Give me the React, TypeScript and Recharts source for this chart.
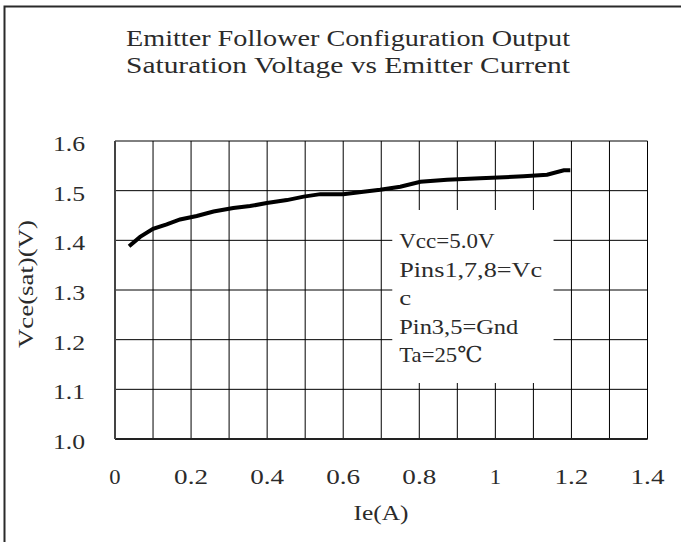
import React from "react";
import {
  CartesianGrid,
  Line,
  LineChart,
  ReferenceArea,
  XAxis,
  YAxis,
} from "recharts";

// values
const ieAmps = [
  0.037, 0.066, 0.1, 0.136, 0.171, 0.215, 0.259, 0.311, 0.355, 0.399, 0.452, 0.496,
  0.54, 0.6, 0.653, 0.697, 0.75, 0.803, 0.873, 0.96, 1.074, 1.136, 1.18, 1.197,
];
const vceSat = [
  1.388, 1.407, 1.423, 1.432, 1.442, 1.449, 1.458, 1.465, 1.469, 1.475, 1.481, 1.488,
  1.493, 1.493, 1.498, 1.502, 1.508, 1.518, 1.522, 1.525, 1.529, 1.532, 1.541, 1.541,
];

const xTicks = [0, 0.1, 0.2, 0.3, 0.4, 0.5, 0.6, 0.7, 0.8, 0.9, 1, 1.1, 1.2, 1.3, 1.4];
const xTickLabels = ["0", "", "0.2", "", "0.4", "", "0.6", "", "0.8", "", "1", "", "1.2", "", "1.4"];
const yTicks = [1.0, 1.1, 1.2, 1.3, 1.4, 1.5, 1.6];
const yTickLabels = ["1.0", "1.1", "1.2", "1.3", "1.4", "1.5", "1.6"];

const titleLines = [
  "Emitter Follower Configuration Output",
  "Saturation Voltage vs Emitter Current",
];
const noteLines = ["Vcc=5.0V", "Pins1,7,8=Vc", "c", "Pin3,5=Gnd", "Ta=25℃"];

const data = ieAmps.map((ie, i) => ({ ie, vce: vceSat[i] }));

const FONT = "'Liberation Serif', 'DejaVu Serif', serif";
const INK = "#2b2b2b";

// half-width cells; CJK symbols like ℃ take two
const cells = (s: string) => [...s].reduce((n, c) => n + (c.charCodeAt(0) > 0x2000 ? 2 : 1), 0);

function SerifText({
  x,
  y,
  text,
  width,
  size,
  anchor = "start",
  rotate,
}: {
  x: number;
  y: number;
  text: string;
  width: number;
  size: number;
  anchor?: "start" | "middle" | "end";
  rotate?: number;
}) {
  if (!text) return null;
  return (
    <text
      x={x}
      y={y}
      fontFamily={FONT}
      fontSize={size}
      fill={INK}
      textAnchor={anchor}
      textLength={width}
      lengthAdjust="spacingAndGlyphs"
      transform={rotate ? `rotate(${rotate} ${x} ${y})` : undefined}
    >
      {text}
    </text>
  );
}

const near = (a: number, b: number) => Math.abs(a - b) < 1e-6;

function renderXTick(props: any) {
  const i = xTicks.findIndex((t) => near(t, props.payload.value));
  const label = xTickLabels[i] ?? "";
  return (
    <SerifText key={`x${i}`} x={props.x} y={439 + 45} text={label} width={label.length * 11.3} size={22} anchor="middle" />
  );
}

function renderYTick(props: any) {
  const i = yTicks.findIndex((t) => near(t, props.payload.value));
  const label = yTickLabels[i] ?? "";
  return (
    <SerifText key={`y${i}`} x={85} y={props.y + 10} text={label} width={label.length * 10.7} size={21} anchor="end" />
  );
}

function NoteLabel(props: any) {
  const vb = props.viewBox;
  return (
    <g>
      {noteLines.map((t, i) => (
        <SerifText key={i} x={vb.x + 7} y={vb.y + 38 + i * 28.5} text={t} width={cells(t) * 11.9} size={22} />
      ))}
    </g>
  );
}

export default function App() {
  return (
    <div style={{ position: "absolute", left: 0, top: 0, width: 681, height: 542, background: "#fff" }}>
      <LineChart
        width={681}
        height={542}
        data={data}
        margin={{ top: 141, right: 33.5, bottom: 63, left: 55 }}
      >
        <rect x={4.5} y={6.5} width={700} height={560} fill="none" stroke="#2a2a2a" strokeWidth={2} />
        {titleLines.map((t, i) => (
          <SerifText key={i} x={126} y={46 + i * 27} text={t} width={t.length * 12} size={24} />
        ))}
        <SerifText x={33} y={284} text="Vce(sat)(V)" width={128} size={22} anchor="middle" rotate={-90} />
        <SerifText x={381} y={520} text="Ie(A)" width={55} size={22} anchor="middle" />
        <CartesianGrid stroke="#000" strokeWidth={1} />
        <XAxis
          dataKey="ie"
          type="number"
          domain={[0, 1.4]}
          ticks={xTicks}
          interval={0}
          height={40}
          tickLine={false}
          axisLine={{ stroke: "#222", strokeWidth: 2 }}
          tick={renderXTick}
        />
        <XAxis
          xAxisId="top"
          orientation="top"
          type="number"
          domain={[0, 1.4]}
          height={0}
          tick={false}
          tickLine={false}
          axisLine={{ stroke: "#9a9a9a", strokeWidth: 2 }}
        />
        <YAxis
          type="number"
          domain={[1.0, 1.6]}
          ticks={yTicks}
          interval={0}
          width={60}
          tickLine={false}
          axisLine={{ stroke: "#444", strokeWidth: 2 }}
          tick={renderYTick}
        />
        <YAxis
          yAxisId="right"
          orientation="right"
          type="number"
          domain={[1.0, 1.6]}
          width={0}
          tick={false}
          tickLine={false}
          axisLine={{ stroke: "#9a9a9a", strokeWidth: 2 }}
        />
        <ReferenceArea
          x1={0.729}
          x2={1.153}
          y1={1.113}
          y2={1.461}
          fill="#fff"
          fillOpacity={1}
          stroke="none"
          label={<NoteLabel />}
        />
        <Line
          dataKey="vce"
          type="linear"
          stroke="#000"
          strokeWidth={4}
          dot={false}
          isAnimationActive={false}
        />
      </LineChart>
    </div>
  );
}
